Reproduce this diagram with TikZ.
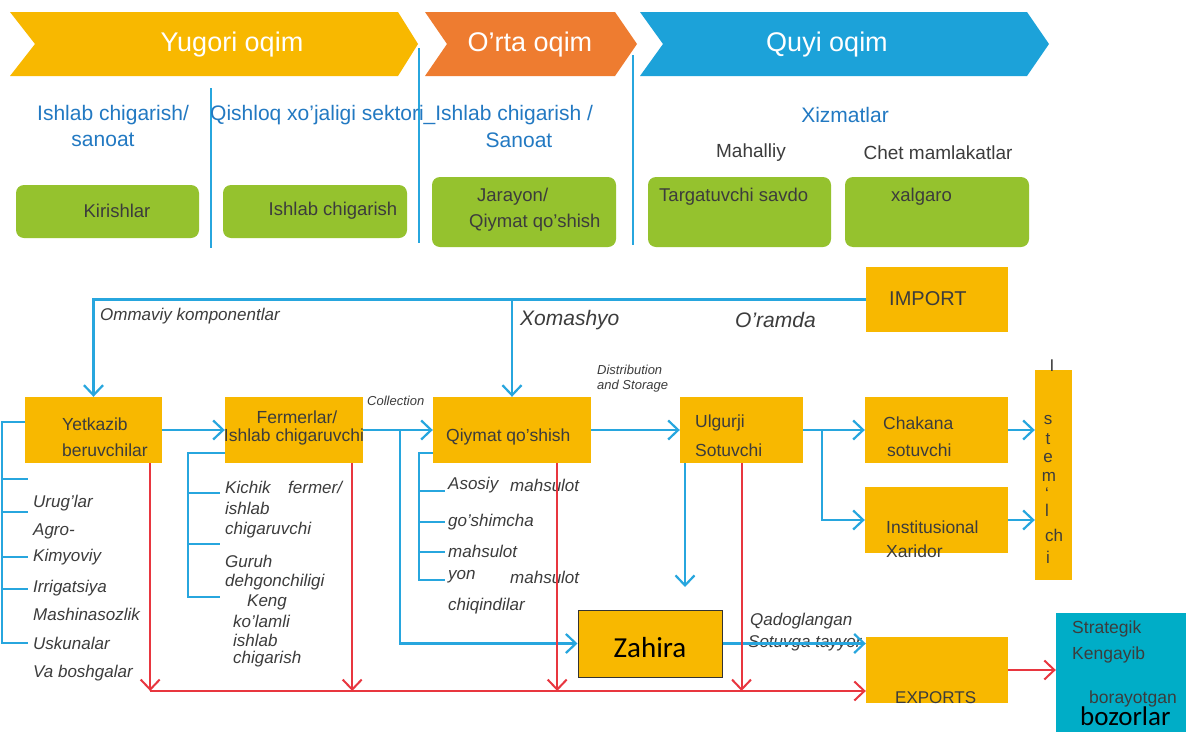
\documentclass[tikz,border=0pt]{standalone}
\usepackage{fontspec}
\setmainfont{Liberation Sans}
\newfontfamily\calib{Carlito}
\usetikzlibrary{arrows.meta}
\definecolor{ylw}{HTML}{F8B800}
\definecolor{org}{HTML}{EE7C30}
\definecolor{bban}{HTML}{1CA2D9}
\definecolor{bln}{HTML}{27A6DE}
\definecolor{grn}{HTML}{95C22E}
\definecolor{rdn}{HTML}{E8363F}
\definecolor{teal}{HTML}{00ADC7}
\definecolor{btxt}{HTML}{2279C2}
\definecolor{txt}{HTML}{3C3C3C}
\begin{document}
\begin{tikzpicture}[x=1pt,y=-1pt,
  ybox/.style={fill=ylw, draw=none, inner sep=0},
  gbox/.style={fill=grn, draw=none, rounded corners=8pt, inner sep=0},
  bl/.style={draw=bln, line width=2.2pt},
  rd/.style={draw=rdn, line width=2pt},
  arr/.style={-{Straight Barb[length=10pt,width=19pt]}},
  bant/.style={inner sep=0, text=white, font=\fontsize{27}{30}\selectfont},
  bt/.style={inner sep=0, text=btxt, font=\fontsize{21}{24}\selectfont},
  gt/.style={inner sep=0, text=txt, font=\fontsize{19}{22}\selectfont},
  lab/.style={inner sep=0, text=txt, font=\fontsize{17.5}{20}\selectfont},
  itl/.style={inner sep=0, text=txt, font=\fontsize{17}{20}\selectfont\itshape},
  sml/.style={inner sep=0, text=txt, font=\fontsize{13}{15}\selectfont\itshape},
  big/.style={inner sep=0, text=txt, font=\fontsize{21}{24}\selectfont\itshape},
  vl/.style={inner sep=0, text=txt, font=\fontsize{17}{20}\selectfont}
]
\useasboundingbox (0,0) rectangle (1186,731);
\fill[white] (0,0) rectangle (1186,731);

% ---- banner chevrons
\fill[ylw] (10,12) -- (398,12) -- (418,44) -- (398,76) -- (10,76) -- (35,44) -- cycle;
\fill[org] (425,12) -- (615,12) -- (637,44) -- (615,76) -- (425,76) -- (447,44) -- cycle;
\fill[bban] (640,12) -- (1027,12) -- (1049,44) -- (1027,76) -- (640,76) -- (663,44) -- cycle;
\node[bant] (h1) at (232,45) {Yugori oqim};
\node[bant] (h2) at (530,45) {O’rta oqim};
\node[bant] (h3) at (827,45) {Quyi oqim};

% ---- separators
\draw[bln, line width=2pt] (211,88) -- (211,248);
\draw[bln, line width=2pt] (419,48) -- (419,243);
\draw[bln, line width=2pt] (633,55) -- (633,245);

% ---- sector headings
\node[bt, anchor=west] (s1) at (37,115) {Ishlab chigarish/};
\node[bt] (s1b) at (103,140) {sanoat};
\node[bt, anchor=west] (s2) at (210,115) {Qishloq xo’jaligi sektori\_Ishlab chigarish /};
\node[bt] (s2b) at (519,140) {Sanoat};
\node[bt] (s3) at (845,115) {Xizmatlar};
\node[gt] (m1) at (751,153) {Mahalliy};
\node[gt] (m2) at (938,153) {Chet mamlakatlar};

% ---- green boxes
\node[gbox, minimum width=183pt, minimum height=53pt] (g1) at (107.5,211.5) {};
\node[gbox, minimum width=184pt, minimum height=53pt] (g2) at (315,211.5) {};
\node[gbox, minimum width=184pt, minimum height=70pt] (g3) at (524,212) {};
\node[gbox, minimum width=183pt, minimum height=70pt] (g4) at (739.5,212) {};
\node[gbox, minimum width=184pt, minimum height=70pt] (g5) at (937,212) {};
\node[lab, font=\fontsize{18.5}{21}\selectfont] (g1t) at (117,211) {Kirishlar};
\node[lab, font=\fontsize{18.5}{21}\selectfont] (g2t) at (333,211) {Ishlab chigarish};
\node[lab, font=\fontsize{18.5}{21}\selectfont, anchor=west] (g3t) at (477,197) {Jarayon/};
\node[lab, font=\fontsize{18.5}{21}\selectfont, anchor=west] (g3u) at (469,223) {Qiymat qo’shish};
\node[lab, font=\fontsize{18.5}{21}\selectfont, anchor=west] (g4t) at (659,197) {Targatuvchi savdo};
\node[lab, font=\fontsize{18.5}{21}\selectfont, anchor=west] (g5t) at (891,197) {xalgaro};

% ---- yellow boxes
\node[ybox, minimum width=142pt, minimum height=65pt] (imp) at (937,299.5) {};
\node[ybox, minimum width=137pt, minimum height=66pt] (yet) at (93.5,430) {};
\node[ybox, minimum width=138pt, minimum height=66pt] (ferm) at (294,430) {};
\node[ybox, minimum width=158pt, minimum height=66pt] (qiy) at (512,430) {};
\node[ybox, minimum width=123pt, minimum height=66pt] (ulg) at (741.5,430) {};
\node[ybox, minimum width=143pt, minimum height=66pt] (chak) at (936.5,430) {};
\node[ybox, minimum width=143pt, minimum height=66pt] (inst) at (936.5,520) {};
\node[ybox, minimum width=37pt, minimum height=210pt] (iste) at (1053.5,475) {};
\node[ybox, minimum width=142pt, minimum height=66pt] (exp) at (937,670) {};
\node[ybox, draw=black!80, line width=1pt, minimum width=144pt, minimum height=67pt] (zah) at (650,643.5) {};
\node[fill=teal, inner sep=0, minimum width=134pt, minimum height=122pt] (strat) at (1123,674) {};

% ---- box labels
\node[lab, font=\fontsize{20}{22}\selectfont, anchor=west] (impt) at (889,299) {IMPORT};
\node[lab, anchor=west] (yet1) at (62,424) {Yetkazib};
\node[lab, anchor=west] (yet2) at (62,450) {beruvchilar};
\node[lab] (fer1) at (297,417) {Fermerlar/};
\node[lab] (fer2) at (294,437) {Ishlab chigaruvchi};
\node[lab, anchor=west] (qiyt) at (446,437) {Qiymat qo’shish};
\node[lab, anchor=west] (ulg1) at (695,423) {Ulgurji};
\node[lab, anchor=west] (ulg2) at (695,450) {Sotuvchi};
\node[lab, anchor=west] (cha1) at (883,423) {Chakana};
\node[lab, anchor=west] (cha2) at (887,450) {sotuvchi};
\node[lab, anchor=west] (ins1) at (886,527) {Institusional};
\node[lab, anchor=west] (ins2) at (886,551) {Xaridor};
\node[lab, font=\fontsize{17}{20}\selectfont, anchor=west] (expt) at (895,698) {EXPORTS};
\node[inner sep=0, font=\calib\fontsize{29}{32}\selectfont] (zaht) at (650,648) {Zahira};
\node[lab, anchor=west] (st1) at (1072,629) {Strategik};
\node[lab, anchor=west] (st2) at (1072,655) {Kengayib};
\node[lab, anchor=west] (st3) at (1089,699) {borayotgan};
\node[inner sep=0, anchor=west, text=black, font=\calib\fontsize{27}{30}\selectfont] (st4) at (1080,716) {bozorlar};

% vertical consumer label
\node[vl] (v0) at (1052,366) {I};
\node[vl] (v1) at (1048,420) {s};
\node[vl] (v2) at (1048,439) {t};
\node[vl] (v3) at (1048,458) {e};
\node[vl] (v4) at (1049,477) {m};
\node[vl, anchor=south] (v5) at (1047,500) {‘};
\node[vl, anchor=north] (v6) at (1047,504) {l};
\node[vl] (v7) at (1054,535) {ch};
\node[vl] (v8) at (1048,557) {i};

% ---- italic labels on flows
\node[itl, anchor=west] (om) at (100,316) {Ommaviy komponentlar};
\node[big, anchor=west] (xo) at (520,320) {Xomashyo};
\node[big, anchor=west] (ur) at (735,320) {O’ramda};
\node[sml, anchor=west] (col) at (367,401) {Collection};
\node[sml, anchor=west] (ds1) at (597,370) {Distribution};
\node[sml, anchor=west] (ds2) at (597,386) {and Storage};
\node[itl, anchor=west] (qd1) at (750,621) {Qadoglangan};
\node[itl, anchor=west] (qd2) at (748,643) {Sotuvga tayyor};

% supplier list
\node[itl, anchor=west] (a1) at (33,503) {Urug’lar};
\node[itl, anchor=west] (a2) at (33,531) {Agro-};
\node[itl, anchor=west] (a3) at (33,557) {Kimyoviy};
\node[itl, anchor=west] (a4) at (33,588) {Irrigatsiya};
\node[itl, anchor=west] (a5) at (33,614) {Mashinasozlik};
\node[itl, anchor=west] (a6) at (33,643) {Uskunalar};
\node[itl, anchor=west] (a7) at (33,673) {Va boshgalar};

% farmer list
\node[itl, anchor=west] (b1) at (225,487) {Kichik};
\node[itl, anchor=west] (b1b) at (288,487) {fermer/};
\node[itl, anchor=west] (b2) at (225,508) {ishlab};
\node[itl, anchor=west] (b3) at (225,530) {chigaruvchi};
\node[itl, anchor=west] (b4) at (225,561) {Guruh};
\node[itl, anchor=west] (b5) at (225,582) {dehgonchiligi};
\node[itl, anchor=west] (b6) at (247,602) {Keng};
\node[itl, anchor=west] (b7) at (233,621) {ko’lamli};
\node[itl, anchor=west] (b8) at (233,640) {ishlab};
\node[itl, anchor=west] (b9) at (233,659) {chigarish};

% value-adding list
\node[itl, anchor=west] (c1) at (448,485) {Asosiy};
\node[itl, anchor=west] (c1b) at (510,485) {mahsulot};
\node[itl, anchor=west] (c2) at (448,522) {go’shimcha};
\node[itl, anchor=west] (c3) at (448,551) {mahsulot};
\node[itl, anchor=west] (c4) at (448,577) {yon};
\node[itl, anchor=west] (c4b) at (510,577) {mahsulot};
\node[itl, anchor=west] (c5) at (448,606) {chiqindilar};

% ---- brackets
\draw[bl] (yet.west |- 0,422) -- (2,422) -- (2,643) -- (28,643);
\foreach \yy in {479,512,557,589} \draw[bl] (2,\yy) -- (28,\yy);
\draw[bl] (ferm.west |- 0,453) -- (188,453) -- (188,597) -- (220,597);
\foreach \yy in {493,544} \draw[bl] (188,\yy) -- (220,\yy);
\draw[bl] (qiy.west |- 0,453) -- (419,453) -- (419,580) -- (445,580);
\foreach \yy in {491,522,552} \draw[bl] (419,\yy) -- (445,\yy);

% ---- blue flows
\draw[bl, arr] (imp.west) -| (yet.north);
\draw[bl, arr] (qiy.north |- imp.west) -- (qiy.north);
\draw[bl, arr] (yet.east) -- (ferm.west);
\draw[bl, arr] (ferm.east) -- (qiy.west);
\draw[bl, arr] (qiy.east) -- (ulg.west);
\draw[bl, arr] (ulg.east) -- (chak.west);
\coordinate (br) at (822,430);
\draw[bl, arr] (br) |- (inst.west);
\draw[bl, arr] (chak.east) -- (chak.east -| iste.west);
\draw[bl, arr] (inst.east) -- (inst.east -| iste.west);
\coordinate (ulgd) at (685,587);
\draw[bl, arr] (ulg.south west -| ulgd) -- (ulgd);
\coordinate (cb) at (400,430);
\draw[bl, arr] (cb) |- (zah.west);
\draw[bl, arr] (zah.east) -- (zah.east -| exp.west);

% ---- red flows
\coordinate (bot) at (150,691);
\draw[rd, arr] ([xshift=-12pt]yet.south east) -- ([xshift=-12pt]yet.south east |- bot);
\draw[rd, arr] ([xshift=-11pt]ferm.south east) -- ([xshift=-11pt]ferm.south east |- bot);
\draw[rd, arr] ([xshift=-34pt]qiy.south east) -- ([xshift=-34pt]qiy.south east |- bot);
\draw[rd, arr] (ulg.south) -- (ulg.south |- bot);
\draw[rd, arr] (bot) -- (bot -| exp.west);
\draw[rd, arr] (exp.east) -- (exp.east -| strat.west);
\end{tikzpicture}
\end{document}
